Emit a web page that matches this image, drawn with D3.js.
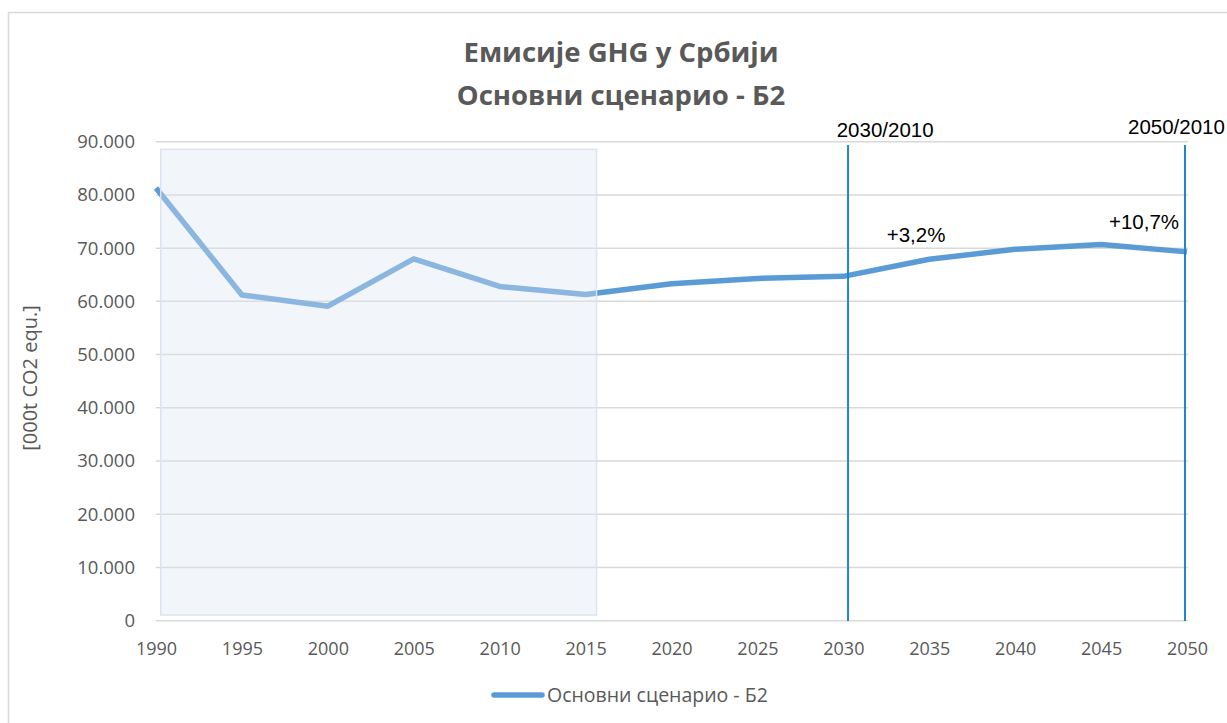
<!DOCTYPE html>
<html><head><meta charset="utf-8">
<script src="https://cdn.jsdelivr.net/npm/d3@7"></script>
<style>
html,body{margin:0;padding:0;background:#fff;}
svg{display:block;}
</style></head>
<body>
<svg id="chart" width="1227" height="723"></svg>
<script>
// ---- data ----
const years = [1990,1995,2000,2005,2010,2015,2020,2025,2030,2035,2040,2045,2050];
const emissions = [81300,61200,59100,68000,62800,61300,63300,64300,64700,67900,69800,70700,69300];
const yTicks = [0,10000,20000,30000,40000,50000,60000,70000,80000,90000];
const refYears = [2030, 2050];
const refLabels = ["2030/2010", "2050/2010"];
const changeLabels = ["+3,2%", "+10,7%"];
const historicRange = [1990, 2015];
const seriesName = "Основни сценарио - Б2";
const titleLines = ["Емисије GHG у Србији", "Основни сценарио - Б2"];
const yTitle = "[000t CO2 equ.]";

const svg = d3.select("#chart");
const x = d3.scaleLinear().domain([1990, 2050]).range([156, 1187]);
const y = d3.scaleLinear().domain([0, 90000]).range([620.7, 141.7]);
const loc = d3.formatLocale({decimal: ",", thousands: ".", grouping: [3], currency: ["", ""]});
const fmt = loc.format(",");

const font = "'Open Sans', sans-serif";
const grey = "#595959";

// outer chart border
svg.append("rect").attr("x", 8.5).attr("y", 12.5).attr("width", 1240).attr("height", 740)
  .attr("fill", "none").attr("stroke", "#d9d9d9").attr("stroke-width", 1.5);

// gridlines
svg.append("g").selectAll("line").data(yTicks).join("line")
  .attr("x1", 155.7).attr("x2", 1188)
  .attr("y1", d => y(d)).attr("y2", d => y(d))
  .attr("stroke", "#d9d9d9").attr("stroke-width", 1.5);

// series line
const line = d3.line().x((d, i) => x(years[i])).y(d => y(d));
svg.append("path").datum(emissions)
  .attr("d", line).attr("fill", "none")
  .attr("stroke", "#5b9bd5").attr("stroke-width", 5.5)
  .attr("stroke-linejoin", "round");

// historic shaded rectangle (semi-transparent overlay)
svg.append("rect")
  .attr("x", x(historicRange[0]) + 4.7)
  .attr("y", 149.3)
  .attr("width", x(historicRange[1]) + 11 - (x(historicRange[0]) + 4.7))
  .attr("height", 615 - 149.3)
  .attr("fill", "rgb(220,228,241)").attr("fill-opacity", 0.37)
  .attr("stroke", "#dbe4f0").attr("stroke-width", 1.5);

// reference lines
const refOffsets = [4.7, -2];
svg.append("g").selectAll("line").data(refYears).join("line")
  .attr("x1", (d, i) => x(d) + refOffsets[i]).attr("x2", (d, i) => x(d) + refOffsets[i])
  .attr("y1", 145).attr("y2", 621)
  .attr("stroke", "#1f87cc").attr("stroke-width", 2);

// reference labels
const refLabelPos = [[836.7, 136.7], [1128, 134]];
svg.append("g").selectAll("text").data(refLabels).join("text")
  .attr("x", (d, i) => refLabelPos[i][0]).attr("y", (d, i) => refLabelPos[i][1])
  .attr("font-family", "'Liberation Sans', Arial, sans-serif").attr("font-size", 20.5)
  .attr("fill", "#000").text(d => d);

const changePos = [[886.7, 242], [1109, 229]];
svg.append("g").selectAll("text").data(changeLabels).join("text")
  .attr("x", (d, i) => changePos[i][0]).attr("y", (d, i) => changePos[i][1])
  .attr("font-family", "'Liberation Sans', Arial, sans-serif").attr("font-size", 20.5)
  .attr("fill", "#000").text(d => d);

// axes
const xAxis = d3.axisBottom(x).tickValues(years).tickFormat(d3.format("d")).tickSize(0).tickPadding(22);
const gx = svg.append("g").attr("transform", "translate(0,620.7)").call(xAxis);
gx.select(".domain").remove();
gx.selectAll("text").attr("font-family", font).attr("font-size", 18).attr("fill", grey);

const yAxis = d3.axisLeft(y).tickValues(yTicks).tickFormat(d => fmt(d)).tickSize(0).tickPadding(21);
const gy = svg.append("g").attr("transform", "translate(156,0)").call(yAxis);
gy.select(".domain").remove();
gy.selectAll("text").attr("font-family", font).attr("font-size", 18.5).attr("fill", grey);

// y title
svg.append("text").attr("transform", "translate(37,378) rotate(-90)")
  .attr("text-anchor", "middle").attr("font-family", font).attr("font-size", 20)
  .attr("fill", grey).text(yTitle);

// chart title
svg.append("g").selectAll("text").data(titleLines).join("text")
  .attr("x", 621).attr("y", (d, i) => 62 + i * 43)
  .attr("text-anchor", "middle").attr("font-family", font).attr("font-weight", "bold")
  .attr("font-size", 27.5).attr("fill", grey).text(d => d);

// legend
svg.append("line").attr("x1", 494).attr("x2", 542).attr("y1", 695).attr("y2", 695)
  .attr("stroke", "#5b9bd5").attr("stroke-width", 5.5).attr("stroke-linecap", "round");
svg.append("text").attr("x", 547).attr("y", 701.5)
  .attr("font-family", font).attr("font-size", 19.5).attr("fill", grey).text(seriesName);
</script>
</body></html>
